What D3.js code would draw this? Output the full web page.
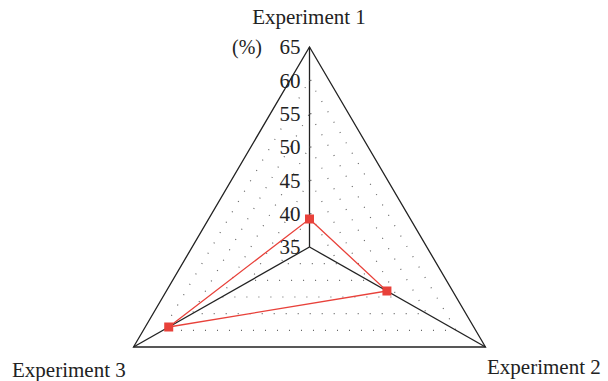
<!DOCTYPE html>
<html>
<head>
<meta charset="utf-8">
<script src="https://cdn.jsdelivr.net/npm/d3@7"></script>
<style>
  body { margin: 0; background: #fff; }
  text { font-family: "Liberation Serif", "DejaVu Serif", serif; fill: #222; }
</style>
</head>
<body>
<div id="chart"></div>
<script>
var categories = ["Experiment 1", "Experiment 2", "Experiment 3"];
var values = [39.2, 48.2, 59.0];
var tickValues = [35, 40, 45, 50, 55, 60, 65];
var gridLevels = [40, 45, 50, 55, 60];

var w = 608, h = 381;
var cx = 309.5, cy = 247;
var xStretch = 1.016;

var svg = d3.select("#chart").append("svg")
  .attr("width", w)
  .attr("height", h);

// radial scale
var r = d3.scaleLinear().domain([35, 65]).range([0, 200]);

// angle for each axis (top, bottom right, bottom left)
function angle(i) { return -Math.PI / 2 + i * 2 * Math.PI / 3; }
function pt(v, i) {
  return [cx + r(v) * Math.cos(angle(i)) * xStretch, cy + r(v) * Math.sin(angle(i))];
}

var line = d3.line().curve(d3.curveLinearClosed);

// dotted grid triangles
svg.selectAll(".grid")
  .data(gridLevels)
  .enter()
  .append("path")
  .attr("class", "grid")
  .attr("d", function(v) { return line(categories.map(function(c, i) { return pt(v, i); })); })
  .attr("fill", "none")
  .attr("stroke", "#666")
  .attr("stroke-width", 1.2)
  .attr("stroke-dasharray", "1,11");

// outer triangle
svg.append("path")
  .attr("d", line(categories.map(function(c, i) { return pt(65, i); })))
  .attr("fill", "none")
  .attr("stroke", "#222")
  .attr("stroke-width", 1.3);

// spokes
svg.selectAll(".spoke")
  .data(categories)
  .enter()
  .append("line")
  .attr("class", "spoke")
  .attr("x1", cx)
  .attr("y1", cy)
  .attr("x2", function(d, i) { return pt(65, i)[0]; })
  .attr("y2", function(d, i) { return pt(65, i)[1]; })
  .attr("stroke", "#222")
  .attr("stroke-width", 1.3);

// tick labels on vertical axis
var yAxisScale = d3.scaleLinear().domain([35, 65]).range([cy, cy - 200]);
svg.selectAll(".tick-label")
  .data(tickValues)
  .enter()
  .append("text")
  .attr("class", "tick-label")
  .attr("x", cx - 9)
  .attr("y", function(d) { return yAxisScale(d); })
  .attr("dy", "0.35em")
  .attr("text-anchor", "end")
  .attr("font-size", "21px")
  .text(function(d) { return d; });

svg.selectAll(".tick-mark")
  .data(tickValues.slice(1, -1))
  .enter()
  .append("line")
  .attr("x1", cx)
  .attr("x2", cx + 2)
  .attr("y1", function(d) { return yAxisScale(d); })
  .attr("y2", function(d) { return yAxisScale(d); })
  .attr("stroke", "#666")
  .attr("stroke-width", 1);

svg.append("text")
  .attr("x", 262)
  .attr("y", yAxisScale(65))
  .attr("dy", "0.35em")
  .attr("text-anchor", "end")
  .attr("font-size", "20px")
  .text("(%)");

// axis labels
var labelPos = [
  { x: 309, y: 24, anchor: "middle" },
  { x: 487, y: 374, anchor: "start" },
  { x: 12, y: 377, anchor: "start" }
];
svg.selectAll(".axis-label")
  .data(categories)
  .enter()
  .append("text")
  .attr("class", "axis-label")
  .attr("x", function(d, i) { return labelPos[i].x; })
  .attr("y", function(d, i) { return labelPos[i].y; })
  .attr("text-anchor", function(d, i) { return labelPos[i].anchor; })
  .attr("font-size", "21px")
  .text(function(d) { return d; });

// data polygon
var dataPts = values.map(function(v, i) { return pt(v, i); });
svg.append("path")
  .attr("d", line(dataPts))
  .attr("fill", "none")
  .attr("stroke", "#e8413a")
  .attr("stroke-width", 1.3);

svg.selectAll(".marker")
  .data(dataPts)
  .enter()
  .append("rect")
  .attr("class", "marker")
  .attr("x", function(d) { return d[0] - 4.5; })
  .attr("y", function(d) { return d[1] - 4.5; })
  .attr("width", 9)
  .attr("height", 9)
  .attr("fill", "#e8413a");
</script>
</body>
</html>
